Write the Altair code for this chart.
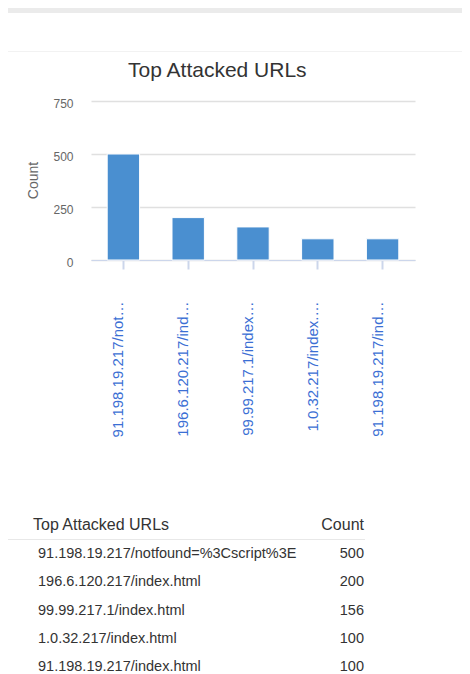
import altair as alt
import pandas as pd

FONT = "Liberation Sans"

# ---- data ----
chart_title = "Top Attacked URLs"
urls = [
    "91.198.19.217/notfound=%3Cscript%3E",
    "196.6.120.217/index.html",
    "99.99.217.1/index.html",
    "1.0.32.217/index.html",
    "91.198.19.217/index.html",
]
axis_labels = [
    "91.198.19.217/not\u2026",
    "196.6.120.217/ind\u2026",
    "99.99.217.1/index\u2026",
    "1.0.32.217/index.\u2026",
    "91.198.19.217/ind\u2026",
]
counts = [500, 200, 156, 100, 100]
y_ticks = [0, 250, 500, 750]
table_headers = ["Top Attacked URLs", "Count"]

df = pd.DataFrame({"url": urls, "label": axis_labels, "count": counts})
one = pd.DataFrame({"k": [0]})

# ---- decorations (panel frame) ----
band = alt.Chart(one).mark_rect(color="#ebebeb").encode(
    x=alt.value(-83), x2=alt.value(371), y=alt.value(-93), y2=alt.value(-88)
)
faint = alt.Chart(one).mark_rule(color="#f2f2f2", strokeWidth=1).encode(
    x=alt.value(-83), x2=alt.value(371), y=alt.value(-49.5)
)

title = alt.Chart(pd.DataFrame({"t": [chart_title]})).mark_text(
    align="left", baseline="alphabetic", fontSize=21, color="#333333", font=FONT
).encode(x=alt.value(37), y=alt.value(-24), text="t:N")

bars = alt.Chart(df).mark_bar(color="#4a8fd0", stroke="white", strokeWidth=1).encode(
    x=alt.X(
        "label:N", sort=None, title=None,
        scale=alt.Scale(paddingInner=0.5, paddingOuter=0.25),
        axis=alt.Axis(
            labelAngle=270, labelAlign="right", labelBaseline="alphabetic",
            labelFontSize=15, labelColor="#3b6fd4", labelLimit=400, labelPadding=32,
            tickSize=9, tickWidth=2, tickColor="#ccd6eb",
            domainColor="#ccd6eb", domainWidth=1, grid=False,
        ),
    ),
    y=alt.Y(
        "count:Q", scale=alt.Scale(domain=[0, 750]),
        axis=alt.Axis(
            values=y_ticks, title="Count", grid=True, gridColor="#e0e0e0", gridWidth=1.5,
            domain=False, ticks=False, labelPadding=18, labelFontSize=12,
            labelColor="#666666", labelOffset=2,
            titleFontSize=14, titleColor="#666666", titleFontWeight="normal",
            titleX=-54, titleY=79, titleAngle=270, titleBaseline="alphabetic",
            titleAlign="center",
        ),
    ),
)

hdr_df = pd.DataFrame({"h1": [table_headers[0]], "h2": [table_headers[1]]})
hdr_left = alt.Chart(hdr_df).mark_text(
    align="left", baseline="middle", fontSize=16, color="#333333", font=FONT
).encode(x=alt.value(-58), y=alt.value(423.5), text="h1:N")
hdr_right = alt.Chart(hdr_df).mark_text(
    align="right", baseline="middle", fontSize=16, color="#333333", font=FONT
).encode(x=alt.value(273), y=alt.value(423.5), text="h2:N")
table_rule = alt.Chart(one).mark_rule(color="#e8e8e8", strokeWidth=1).encode(
    x=alt.value(-83), x2=alt.value(274), y=alt.value(438.5)
)

row_scale = alt.Scale(type="point", range=[438.85, 580.35], padding=0.5)
rows_url = alt.Chart(df).mark_text(
    align="left", baseline="middle", fontSize=14.5, color="#333333", font=FONT
).encode(
    x=alt.value(-53),
    y=alt.Y("url:N", sort=None, scale=row_scale, axis=None),
    text="url:N",
)
rows_cnt = alt.Chart(df).mark_text(
    align="right", baseline="middle", fontSize=14.5, color="#333333", font=FONT
).encode(
    x=alt.value(273),
    y=alt.Y("url:N", sort=None, scale=row_scale, axis=None),
    text="count:Q",
)

chart = alt.layer(
    band, faint, title, bars, hdr_left, hdr_right, table_rule, rows_url, rows_cnt
).resolve_scale(y="independent").properties(
    width=324, height=159,
    padding={"left": 83, "top": 93, "right": 47, "bottom": 420},
    autosize=alt.AutoSizeParams(type="none"),
).configure(font=FONT).configure_view(stroke=None)

chart.save("out.html", embed_options={"renderer": "svg", "actions": False})
